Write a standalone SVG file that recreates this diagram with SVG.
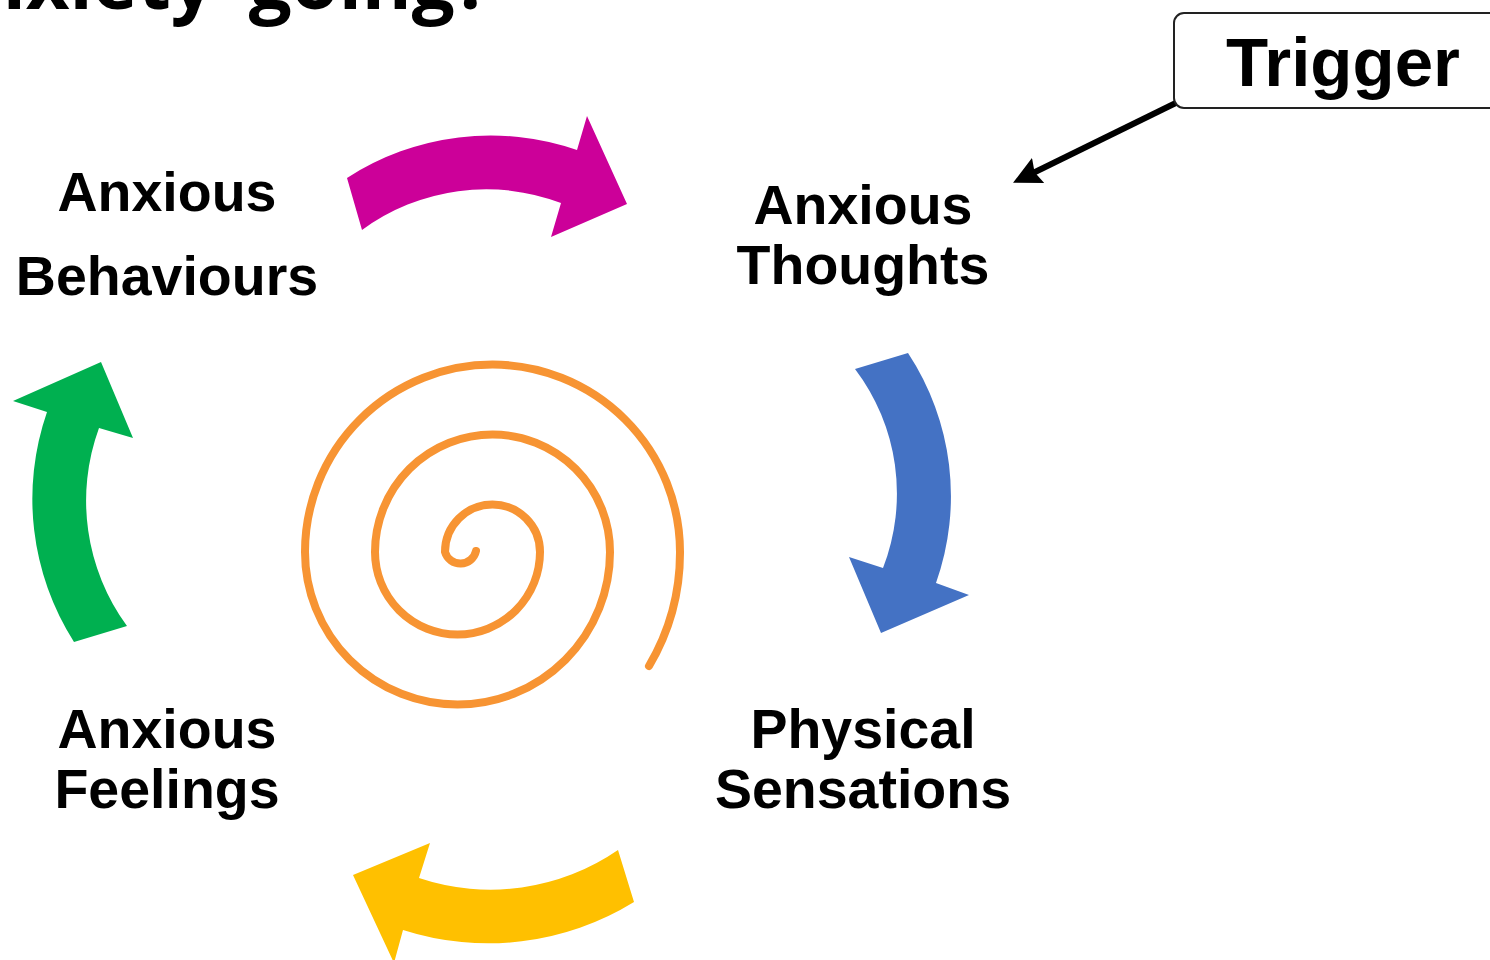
<svg xmlns="http://www.w3.org/2000/svg" width="1490" height="960" viewBox="0 0 1490 960">
  <style>
    .label { font-family: "Liberation Sans", Arial, sans-serif; font-weight: bold; font-size: 55.5px; fill: #000; text-anchor: middle; }
    .title { font-family: "Open Sans", "DejaVu Sans", sans-serif; font-weight: bold; font-size: 76px; word-spacing: 15px; fill: #000; text-anchor: end; }
    .trigger-text { font-family: "Liberation Sans", Arial, sans-serif; font-weight: bold; font-size: 69px; fill: #000; }
    .connector { stroke: #000; stroke-width: 6; fill: none; }
  </style>
  <defs>
    <marker id="arrowhead" markerUnits="userSpaceOnUse" viewBox="0 0 28 28" markerWidth="28" markerHeight="28" refX="8" refY="14" orient="auto">
      <path d="M0,0 L28,14 L0,28 L4,14 Z" fill="#000"/>
    </marker>
  </defs>
  <rect width="1490" height="960" fill="#fff"/>

  <!-- heading, partly above the top edge -->
  <text class="title" x="491" y="9">nxiety going?</text>

  <!-- connectors -->
  <g id="connectors">
    <line class="connector" x1="1188" y1="97" x2="1031" y2="174" marker-end="url(#arrowhead)"/>
  </g>

  <!-- trigger box -->
  <g id="trigger">
    <rect x="1174" y="13" width="340" height="95" rx="10" ry="10" fill="#fff" stroke="#222" stroke-width="2"/>
    <text class="trigger-text" x="1226" y="86">Trigger</text>
  </g>

  <!-- cycle arrows -->
  <g id="arrow-behaviours-thoughts">
    <path d="M347,178 A264,264 0 0 1 577,150 L587,116 L627,204 L551,237 L561,203 A210,210 0 0 0 362,230 Z" fill="#CC0099"/>
  </g>
  <g id="arrow-thoughts-sensations">
    <path d="M908,353 A260,260 0 0 1 936,583 L969,595 L881,633 L849,557 L883,568 A206,206 0 0 0 855,369 Z" fill="#4472C4"/>
  </g>
  <g id="arrow-sensations-feelings">
    <path d="M634,902 A278,278 0 0 1 403,930 L394,963 L353,875 L430,843 L419,878 A225,225 0 0 0 618,850 Z" fill="#FFC000"/>
  </g>
  <g id="arrow-feelings-behaviours">
    <path d="M74,642 A266,266 0 0 1 47,412 L13,401 L101,362 L133,438 L99,428 A212,212 0 0 0 127,626 Z" fill="#00B050"/>
  </g>

  <!-- central spiral built from half-circle arcs -->
  <g id="spiral">
    <path d="M476,551 A16,16 0 0 1 445,552 A47.5,47.5 0 0 1 540,552 A82.5,82.5 0 0 1 375,552 A117.5,117.5 0 0 1 610,552 A152.5,152.5 0 0 1 305,552 A187.5,187.5 0 0 1 680,552 A222.5,222.5 0 0 1 649,666" fill="none" stroke="#F79433" stroke-width="8" stroke-linecap="round"/>
  </g>

  <!-- labels -->
  <g id="anxious-behaviours">
    <text class="label" x="167" y="211">Anxious</text>
    <text class="label" x="167" y="295">Behaviours</text>
  </g>
  <g id="anxious-thoughts">
    <text class="label" x="863" y="224">Anxious</text>
    <text class="label" x="863" y="284">Thoughts</text>
  </g>
  <g id="physical-sensations">
    <text class="label" x="863" y="748">Physical</text>
    <text class="label" x="863" y="808">Sensations</text>
  </g>
  <g id="anxious-feelings">
    <text class="label" x="167" y="748">Anxious</text>
    <text class="label" x="167" y="808">Feelings</text>
  </g>
</svg>
